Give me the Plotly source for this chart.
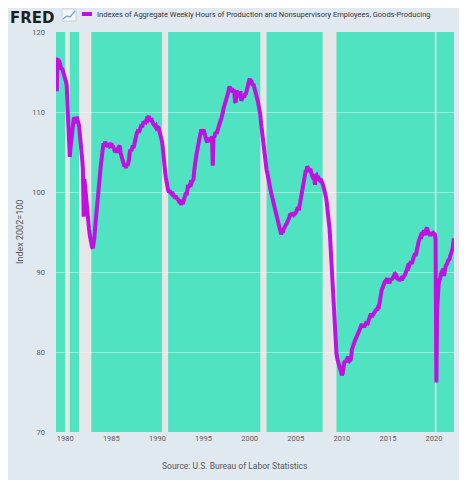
import pandas as pd
import plotly.graph_objects as go

# monthly index values, 2002=100
hours_1979_1989 = [
    116.8, 112.6, 116.7, 116.2, 116.5, 116.1, 115.7, 115.3, 115.5, 115.0, 114.6, 114.4,
    114.1, 113.8, 113.3, 110.8, 108.0, 106.3, 104.4, 105.6, 106.9, 107.9, 108.6, 109.1,
    109.3, 108.8, 108.6, 109.4, 109.1, 108.8, 108.3, 107.3, 106.5, 105.3, 104.2, 103.0,
    96.9, 101.6, 100.4, 99.2, 98.2, 97.1, 96.2, 95.4, 94.6, 94.0, 93.3, 93.1,
    93.0, 93.4, 94.2, 95.6, 96.9, 98.2, 99.3, 100.1, 101.0, 101.9, 103.0, 104.3,
    105.2, 105.5, 106.1, 105.8, 106.3, 106.0, 105.7, 106.0, 105.6, 106.1, 105.8, 105.9,
    106.1, 105.5, 105.8, 105.4, 105.2, 105.0, 105.3, 104.9, 105.3, 105.6, 105.7, 105.8,
    104.9, 104.6, 104.2, 103.9, 103.6, 103.2, 103.4, 103.0, 103.5, 103.3, 103.6, 104.0,
    105.0, 105.3, 105.1, 105.6, 105.8, 105.5, 106.1, 106.5, 107.0, 107.3, 107.5, 107.8,
    107.4, 108.0, 108.3, 108.4, 108.1, 108.6, 108.8, 108.5, 108.9, 108.8, 109.1, 109.0,
    109.3, 109.5, 109.0, 109.2, 108.8, 108.9, 108.6, 108.5, 108.4, 108.2, 108.3, 108.0,
]
hours_1990_1999 = [
    108.1, 108.2, 107.9, 107.3, 107.1, 106.8, 106.3, 105.5, 104.8, 103.6, 102.6, 101.8,
    101.1, 100.6, 100.2, 100.0, 100.2, 99.9, 99.8, 100.0, 99.7, 99.6, 99.4, 99.4,
    99.5, 99.1, 99.3, 98.9, 99.0, 98.6, 98.7, 98.4, 98.8, 98.5, 99.0, 99.4,
    99.8, 99.9, 99.6, 100.4, 100.9, 100.7, 100.8, 101.1, 101.0, 101.3, 101.5, 101.6,
    102.8, 103.9, 104.3, 104.8, 105.3, 105.9, 106.4, 106.8, 107.3, 107.8, 107.6, 107.5,
    107.8, 107.3, 107.0, 106.6, 106.4, 106.2, 106.6, 106.3, 106.8, 106.5, 106.7, 106.9,
    103.3, 107.0, 106.8, 107.2, 107.5, 107.3, 107.7, 108.0, 108.3, 108.6, 108.9, 109.1,
    109.4, 109.9, 110.4, 110.7, 111.0, 111.3, 111.5, 111.9, 112.4, 112.9, 113.2, 112.8,
    112.6, 113.0, 112.4, 112.8, 112.5, 111.3, 111.2, 112.7, 112.4, 112.2, 112.5, 111.8,
    112.6, 111.4, 111.6, 111.8, 112.0, 111.8, 112.3, 112.2, 112.6, 113.0, 113.2, 113.6,
]
hours_2000_2009 = [
    114.2, 113.8, 114.0, 113.6, 113.3, 113.5, 113.0, 112.6, 112.4, 112.0, 111.6, 111.2,
    110.8, 110.2, 109.6, 108.5, 107.6, 106.6, 105.6, 104.8, 104.0, 103.3, 102.8, 102.4,
    102.0, 101.4, 100.8, 100.4, 99.9, 99.5, 99.0, 98.6, 98.1, 97.6, 97.2, 96.9,
    96.5, 96.0, 95.5, 95.1, 94.9, 94.7, 95.0, 94.9, 95.3, 95.6, 95.7, 95.9,
    96.0, 96.2, 96.5, 96.7, 96.9, 97.3, 97.1, 97.4, 97.0, 97.5, 97.2, 97.3,
    97.4, 97.6, 97.9, 98.1, 97.7, 98.3, 98.5, 99.2, 100.0, 100.7, 101.1, 101.5,
    102.3, 102.7, 102.6, 103.2, 103.0, 102.8, 102.5, 102.9, 102.3, 102.1, 101.9, 102.0,
    101.9, 100.9, 102.0, 102.1, 101.8, 102.0, 101.6, 101.5, 101.7, 101.3, 101.2, 101.0,
    100.7, 100.4, 100.0, 99.5, 99.0, 98.3, 97.5, 96.6, 95.4, 93.8, 92.0, 89.9,
    87.5, 85.5, 83.6, 82.0, 80.8, 79.8, 79.2, 78.7, 78.3, 77.9, 77.8, 77.5,
]
hours_2010_2022 = [
    77.1, 77.3, 78.4, 78.6, 78.9, 78.7, 79.0, 79.3, 79.4, 79.1, 78.9, 79.0,
    79.2, 80.3, 80.7, 80.9, 81.1, 81.4, 81.7, 81.6, 82.0, 82.3, 82.5, 82.7,
    83.0, 83.4, 83.5, 83.2, 83.4, 83.1, 83.3, 83.5, 83.4, 83.8, 83.7, 84.0,
    84.2, 84.6, 84.8, 84.4, 84.6, 84.8, 84.9, 85.0, 85.2, 85.3, 85.2, 85.6,
    85.6, 86.1, 86.9, 87.6, 87.8, 88.0, 88.4, 88.5, 88.8, 88.9, 89.1, 89.2,
    88.6, 88.8, 88.6, 88.9, 89.2, 89.0, 89.3, 89.4, 89.6, 89.5, 89.7, 89.6,
    89.4, 89.0, 89.2, 88.9, 89.1, 89.2, 89.0, 89.3, 89.4, 89.5, 89.6, 89.8,
    90.0, 90.4, 90.7, 90.6, 90.9, 91.1, 91.3, 91.0, 91.4, 91.9, 92.1, 92.3,
    92.0, 92.6, 93.0, 93.4, 93.8, 94.1, 94.3, 94.6, 94.5, 94.8, 94.9, 95.2,
    95.0, 94.6, 95.4, 95.5, 95.1, 94.7, 95.0, 94.5, 94.9, 94.6, 94.8, 94.9,
    94.8, 94.7, 94.1, 76.2, 85.2, 87.7, 88.5, 89.0, 89.2, 89.8, 90.0, 90.3,
    90.4, 89.5, 90.6, 90.7, 90.9, 91.0, 91.4, 91.5, 91.6, 92.0, 92.3, 92.6,
    92.9, 93.6, 94.2,
]
hours = hours_1979_1989 + hours_1990_1999 + hours_2000_2009 + hours_2010_2022
dates = pd.date_range("1979-01-01", periods=len(hours), freq="MS")

# NBER recessions (peak month, trough month)
recession_start = ["1980-01-01", "1981-07-01", "1990-07-01", "2001-03-01", "2007-12-01", "2020-02-01"]
recession_end = ["1980-07-01", "1982-11-01", "1991-03-01", "2001-11-01", "2009-06-01", "2020-04-01"]

y_ticks = [70, 80, 90, 100, 110, 120]
x_ticks = [str(y) + "-01-01" for y in range(1980, 2021, 5)]
x_labels = [str(y) for y in range(1980, 2021, 5)]

series_name = "Indexes of Aggregate Weekly Hours of Production and Nonsupervisory Employees, Goods-Producing"
txt_font = "Roboto, Open Sans"

fig = go.Figure()

fig.add_trace(go.Scatter(
    x=dates, y=hours, mode="lines", name=series_name,
    line=dict(color="#bf12e0", width=4), showlegend=False,
))

# green bands for the expansions, the grey gaps left between them are the recessions
first = str(dates[0].date())
last = str(dates[-1].date())
band_starts = [first] + recession_end
band_ends = recession_start + [last]
for x0, x1 in zip(band_starts, band_ends):
    fig.add_shape(type="rect", xref="x", yref="paper", x0=x0, x1=x1, y0=0, y1=1,
                  fillcolor="#50e3c2", line=dict(width=0), layer="below")

# the page puts the figure 8px in from the window corner; positions below are window pixels
def px_x(p):
    return (p - 56) / 398

def px_y(p):
    return (432 - p) / 400

# legend swatch and text, FRED style
fig.add_shape(type="line", xref="paper", yref="paper",
              x0=px_x(82), x1=px_x(92), y0=px_y(14), y1=px_y(14),
              line=dict(color="#bf12e0", width=4))
fig.add_annotation(x=px_x(95), y=px_y(14), xref="paper", yref="paper", text=series_name,
                   showarrow=False, xanchor="left", yanchor="middle",
                   font=dict(family=txt_font, size=7.5, color="#333333"))

# FRED logo
fig.add_annotation(x=px_x(8), y=px_y(18), xref="paper", yref="paper", text="<b>FRED</b>",
                   showarrow=False, xanchor="left", yanchor="middle",
                   font=dict(family="DejaVu Sans", size=15, color="#1f1f1f"))
fig.add_shape(type="rect", xref="paper", yref="paper",
              x0=px_x(62), x1=px_x(76), y0=px_y(21), y1=px_y(9),
              fillcolor="#f2f5f8", line=dict(color="#c8d2dc", width=1))
fig.add_shape(type="path", xref="paper", yref="paper",
              path="M %f %f L %f %f L %f %f L %f %f" % (px_x(63), px_y(19), px_x(67), px_y(16),
                                                       px_x(70), px_y(17), px_x(75), px_y(11)),
              line=dict(color="#6fa0c8", width=1.2))

fig.add_annotation(x=px_x(13), y=0.5, xref="paper", yref="paper", text="Index 2002=100",
                   showarrow=False, textangle=-90,
                   font=dict(family=txt_font, size=9, color="#555555"))

fig.add_annotation(x=px_x(234), y=px_y(473), xref="paper", yref="paper",
                   text="Source: U.S. Bureau of Labor Statistics", showarrow=False,
                   font=dict(family=txt_font, size=8.5, color="#555555"))

fig.update_layout(
    width=459, height=472,
    margin=dict(l=48, r=13, t=24, b=48),
    paper_bgcolor="#e1e9f0",
    plot_bgcolor="#e6e6e6",
    font=dict(family=txt_font, size=8, color="#595959"),
)

fig.update_xaxes(range=[first, last], tickvals=x_ticks, ticktext=x_labels,
                 showgrid=False, zeroline=False, showline=False, ticks="",
                 tickfont=dict(family=txt_font, size=7.5, color="#595959"))
fig.update_yaxes(range=[70, 120], tickvals=y_ticks, showgrid=True,
                 gridcolor="rgba(255,255,255,0.4)", gridwidth=1,
                 zeroline=False, showline=False, ticks="", ticklabelstandoff=10,
                 tickfont=dict(family=txt_font, size=7.5, color="#595959"))

fig.write_html("out.html")
